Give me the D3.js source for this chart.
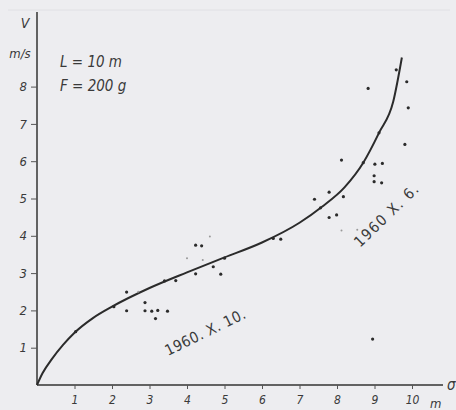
<!DOCTYPE html>
<html>
<head>
<meta charset="utf-8">
<script src="https://cdn.jsdelivr.net/npm/d3@7"></script>
<style>
  body { margin: 0; background: #ededf0; }
  svg { display: block; }
  text { font-family: "DejaVu Sans Condensed", "Liberation Sans Narrow", sans-serif; font-style: italic; fill: #3a3a3a; }
</style>
</head>
<body>
<div id="wrapper"></div>
<script>
// fitted curve v(sigma)
let curvePoints = [
  [0, 0], [0.15, 0.32], [0.4, 0.7], [0.7, 1.08], [1, 1.4], [1.5, 1.8], [2, 2.1],
  [3, 2.6], [4, 3.02], [5, 3.42], [6, 3.82], [7, 4.35], [7.6, 4.78], [8.2, 5.3],
  [8.7, 5.96], [9.12, 6.76], [9.5, 7.6], [9.73, 8.78]
];

// measured points
let dots = [
  [1.03, 1.43], [2.05, 2.1], [2.39, 2.49], [2.39, 1.99], [2.88, 2.21],
  [2.88, 1.99], [3.06, 1.98], [3.22, 2.0], [3.48, 1.98], [3.16, 1.78],
  [3.4, 2.79], [3.7, 2.8], [4.23, 2.98], [4.7, 3.17], [4.9, 2.97], [5.0, 3.4],
  [4.23, 3.75], [4.39, 3.73], [6.3, 3.93], [6.5, 3.91],
  [8.12, 6.03], [8.7, 5.96], [9.01, 5.92], [9.21, 5.94], [8.99, 5.61],
  [8.99, 5.45], [9.19, 5.42], [7.79, 5.17], [8.17, 5.05], [7.4, 4.98],
  [7.56, 4.75], [7.79, 4.49], [7.99, 4.56],
  [9.58, 8.45], [9.86, 8.13], [8.83, 7.95], [9.9, 7.43], [9.12, 6.76], [9.81, 6.45],
  [8.95, 1.23]
];

// faint specks
let faintDots = [
  [4.42, 3.35], [4.61, 3.98], [8.54, 4.16], [8.12, 4.14], [2.7, 2.5], [4.0, 3.4]
];

let xTicks = [1, 2, 3, 4, 5, 6, 7, 8, 9, 10];
let yTicks = [1, 2, 3, 4, 5, 6, 7, 8];

let dimensions = {
  width: 456,
  height: 410,
  margin: { top: 12, right: 13, bottom: 25, left: 37 }
};
dimensions.boundedWidth = dimensions.width - dimensions.margin.left - dimensions.margin.right;
dimensions.boundedHeight = dimensions.height - dimensions.margin.top - dimensions.margin.bottom;

let wrapper = d3.select("#wrapper")
  .append("svg")
  .attr("width", dimensions.width)
  .attr("height", dimensions.height);

// faint page edge at the top
wrapper.append("line")
  .attr("x1", 8).attr("x2", 450).attr("y1", 10).attr("y2", 10)
  .attr("stroke", "#e0e0e4").attr("stroke-width", 1);

let bounds = wrapper.append("g")
  .attr("transform", `translate(${dimensions.margin.left}, ${dimensions.margin.top})`);

let xScale = d3.scaleLinear().domain([0, 10]).range([0, 375]);
let yScale = d3.scaleLinear().domain([0, 10]).range([dimensions.boundedHeight, dimensions.boundedHeight - 373]);

// axes lines
bounds.append("line")
  .attr("x1", 0).attr("x2", 406)
  .attr("y1", yScale(0)).attr("y2", yScale(0))
  .attr("stroke", "#333").attr("stroke-width", 1.5);

bounds.append("line")
  .attr("x1", 0).attr("x2", 0)
  .attr("y1", yScale(0)).attr("y2", 0)
  .attr("stroke", "#333").attr("stroke-width", 1.5);

let xAxis = bounds.append("g")
  .attr("transform", `translate(0, ${yScale(0)})`)
  .call(d3.axisBottom(xScale).tickValues(xTicks).tickSize(4).tickPadding(6).tickFormat(d3.format("d")));
xAxis.select(".domain").remove();
xAxis.selectAll("line").attr("stroke", "#555");
xAxis.selectAll("text").attr("font-size", 12).style("font-family", null);

let yAxis = bounds.append("g")
  .call(d3.axisLeft(yScale).tickValues(yTicks).tickSize(6).tickPadding(4).tickFormat(d3.format("d")));
yAxis.select(".domain").remove();
yAxis.selectAll("line").attr("stroke", "#555");
yAxis.selectAll("text").attr("font-size", 13).style("font-family", null);

// curve
let line = d3.line()
  .x(d => xScale(d[0]))
  .y(d => yScale(d[1]))
  .curve(d3.curveMonotoneX);

bounds.append("path")
  .datum(curvePoints)
  .attr("d", line)
  .attr("fill", "none")
  .attr("stroke", "#2b2b2b")
  .attr("stroke-width", 2);

bounds.selectAll("circle.faint")
  .data(faintDots)
  .join("circle")
  .attr("class", "faint")
  .attr("cx", d => xScale(d[0]))
  .attr("cy", d => yScale(d[1]))
  .attr("r", 1)
  .attr("fill", "#999");

bounds.selectAll("circle.dot")
  .data(dots)
  .join("circle")
  .attr("class", "dot")
  .attr("cx", d => xScale(d[0]))
  .attr("cy", d => yScale(d[1]))
  .attr("r", 1.6)
  .attr("fill", "#2b2b2b");

// labels
wrapper.append("text").attr("x", 25).attr("y", 28).attr("font-size", 14).attr("text-anchor", "middle").text("V");
wrapper.append("text").attr("x", 20).attr("y", 58).attr("font-size", 13).attr("text-anchor", "middle").text("m/s");
wrapper.append("text").attr("x", 60).attr("y", 67).attr("font-size", 15).text("L = 10 m");
wrapper.append("text").attr("x", 60).attr("y", 91).attr("font-size", 15).text("F = 200 g");
wrapper.append("text").attr("x", 430).attr("y", 408).attr("font-size", 13).text("m");
wrapper.append("text").attr("x", 447).attr("y", 390).attr("font-size", 15).text("σ");

wrapper.append("text")
  .attr("transform", "translate(168, 356) rotate(-26)")
  .attr("font-size", 15)
  .style("font-style", "normal")
  .style("letter-spacing", "0.5px")
  .text("1960. X. 10.");

wrapper.append("text")
  .attr("transform", "translate(360, 248) rotate(-44)")
  .attr("font-size", 15)
  .style("font-style", "normal")
  .style("letter-spacing", "1.5px")
  .text("1960 X. 6.");
</script>
</body>
</html>
